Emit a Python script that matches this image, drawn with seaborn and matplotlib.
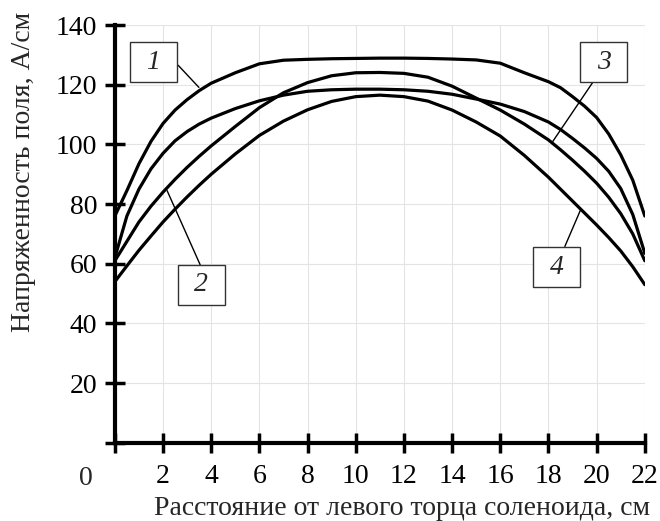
import numpy as np
import pandas as pd
import seaborn as sns
import matplotlib.pyplot as plt
from matplotlib.patches import Rectangle

# distance from left end of solenoid, cm
x_cm = [0, 0.5, 1, 1.5, 2, 2.5, 3, 3.5, 4, 5, 6, 7, 8, 9, 10, 11, 12, 13, 14, 15, 16, 17,
        18, 18.5, 19, 19.5, 20, 20.5, 21, 21.5, 22]

# field strength, A/cm
curve_1 = [76, 84.5, 93.5, 101, 107, 111.5, 115, 118, 120.5, 124, 127, 128.2, 128.5, 128.7,
           128.8, 128.9, 128.9, 128.8, 128.6, 128.3, 127.2, 124,
           121, 119, 116, 112.8, 109, 103.5, 96.5, 88, 76]
curve_2 = [61, 67.5, 74, 79.3, 84, 88.3, 92.3, 96, 99.5, 106, 112.3, 117.3, 120.7, 123,
           124, 124.1, 123.8, 122.5, 119.5, 115.5, 111.5, 106.8,
           101.5, 98.2, 94.7, 91, 87, 82.3, 76.8, 70, 61]
curve_3 = [62, 76, 85, 91.8, 97, 101.2, 104.3, 106.8, 108.8, 112, 114.6, 116.5, 117.8, 118.3,
           118.5, 118.5, 118.3, 117.8, 116.8, 115.2, 113.5, 111,
           107.5, 105, 102, 98.8, 95.3, 91, 85.2, 76.5, 63.5]
curve_4 = [54, 59.3, 64.5, 69.3, 74, 78.3, 82.4, 86.3, 90, 96.8, 103, 107.8, 111.6, 114.4,
           116, 116.5, 116, 114.5, 111.5, 107.5, 102.8, 96.3,
           89, 85, 81, 77, 73, 68.8, 64.3, 59, 53]

x_ticks = [0, 2, 4, 6, 8, 10, 12, 14, 16, 18, 20, 22]
y_ticks = [0, 20, 40, 60, 80, 100, 120, 140]

# curve labels: text, box centre, leader start, leader end
labels = ['1', '2', '3', '4']
box_xy = [(1.6, 127.5), (3.58, 52.9), (20.3, 127.5), (18.35, 58.9)]
lead_from = [(2.63, 126.5), (3.54, 59.7), (19.84, 120.8), (18.68, 65.8)]
lead_to = [(3.49, 119.1), (2.17, 84.5), (18.18, 101.0), (19.34, 78.2)]

n = len(x_cm)
df = pd.DataFrame({'x': x_cm * 4,
                   'H': curve_1 + curve_2 + curve_3 + curve_4,
                   'curve': ['1'] * n + ['2'] * n + ['3'] * n + ['4'] * n})

sns.set_theme(style='whitegrid')
plt.rcParams['font.family'] = ['Liberation Serif', 'DejaVu Serif']

fig = plt.figure(figsize=(6.6, 5.21), dpi=100)
ax = fig.add_axes([0.174, 0.150, 0.803, 0.802])

sns.lineplot(data=df, x='x', y='H', hue='curve', palette=['black'] * 4,
             linewidth=2.3, legend=False, ax=ax)

ax.set_xlim(0, 22)
ax.set_ylim(0, 140)
ax.set_xticks(x_ticks)
ax.set_xticklabels([''] + [str(t) for t in x_ticks[1:]])
ax.set_yticks(y_ticks)
ax.set_yticklabels([''] + [str(t) for t in y_ticks[1:]])
ax.grid(True, color='#e4e4e4', linewidth=0.8)
ax.set_axisbelow(True)

for s in ['top', 'right']:
    ax.spines[s].set_visible(False)
for s in ['left', 'bottom']:
    ax.spines[s].set_visible(True)
    ax.spines[s].set_color('black')
    ax.spines[s].set_linewidth(3)
ax.tick_params(bottom=True, left=True, direction='inout', length=15, width=2.5,
               color='black', labelsize=20, pad=5, labelcolor='black')
ax.tick_params(axis='x', pad=8)
ax.text(-1.2, -11.8, '0', fontsize=20, ha='center', va='center')

ax.set_xlabel('Расстояние от левого торца соленоида, см', fontsize=20)
ax.set_ylabel('Напряженность поля, А/см', fontsize=20)
ax.xaxis.set_label_coords(0.542, -0.128)
ax.yaxis.set_label_coords(-0.149, 0.648)

bw, bh = 1.95, 13.4
for t, (bx, by), p0, p1 in zip(labels, box_xy, lead_from, lead_to):
    ax.plot([p0[0], p1[0]], [p0[1], p1[1]], color='black', linewidth=1.0, zorder=4)
    ax.add_patch(Rectangle((bx - bw / 2, by - bh / 2), bw, bh, facecolor='white',
                           edgecolor='#333333', linewidth=1.0, zorder=5))
    ax.text(bx, by, t, fontsize=20, style='italic', ha='center', va='center', zorder=6)

fig.savefig('out.png', dpi=100)
